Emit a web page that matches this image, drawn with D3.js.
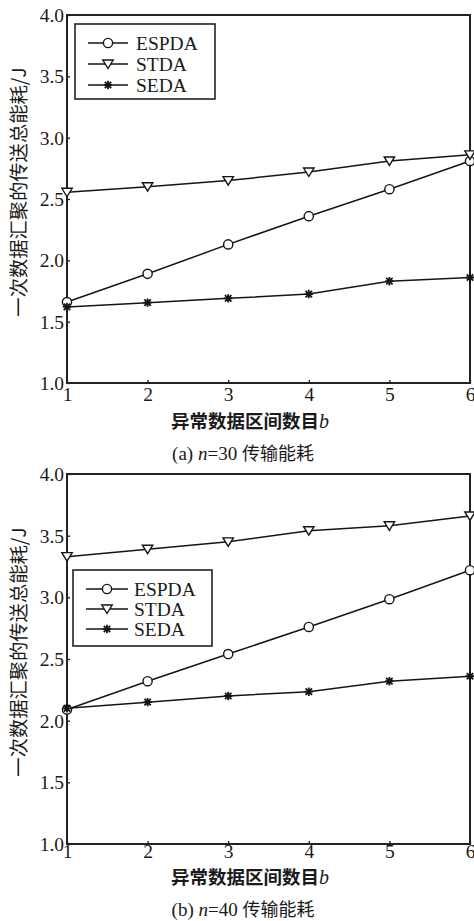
<!DOCTYPE html>
<html><head><meta charset="utf-8">
<script src="https://cdn.jsdelivr.net/npm/d3@7"></script>
<style>
html,body{margin:0;padding:0;background:#fff;}
svg{display:block;}
text{fill:#1a1a1a;}
.serif{font-family:"Liberation Serif","DejaVu Serif",serif;}
.cjk{font-family:"Noto Sans CJK SC","Noto Sans CJK JP",sans-serif;}
</style></head>
<body>
<svg id="c" width="474" height="921"></svg>
<script>
// ---- data ----
const categories = [1, 2, 3, 4, 5, 6];
const yTicks = [1.0, 1.5, 2.0, 2.5, 3.0, 3.5, 4.0];
const seriesNames = ["ESPDA", "STDA", "SEDA"];
// (a) n=30
const espdaA = [1.66, 1.89, 2.13, 2.36, 2.58, 2.81];
const stdaA  = [2.555, 2.60, 2.65, 2.72, 2.81, 2.86];
const sedaA  = [1.62, 1.655, 1.69, 1.725, 1.83, 1.86];
// (b) n=40
const espdaB = [2.09, 2.32, 2.54, 2.76, 2.985, 3.22];
const stdaB  = [3.33, 3.39, 3.45, 3.54, 3.58, 3.66];
const sedaB  = [2.10, 2.15, 2.20, 2.235, 2.32, 2.36];

const xLabelCJK = "异常数据区间数目";
const yLabel = "一次数据汇聚的传送总能耗/J";
const captionA = {pre: "(a) ", n: "n", post: "=30 ", cjk: "传输能耗"};
const captionB = {pre: "(b) ", n: "n", post: "=40 ", cjk: "传输能耗"};

const svg = d3.select("#c");
const INK = "#151515";

function marker(g, type, x, y) {
  if (type === "ESPDA") {
    g.append("circle").attr("cx", x).attr("cy", y).attr("r", 4.6)
      .attr("fill", "#fff").attr("stroke", INK).attr("stroke-width", 1.4);
  } else if (type === "STDA") {
    g.append("path")
      .attr("d", `M${x-5.2},${y-4} L${x+5.2},${y-4} L${x},${y+4.5} Z`)
      .attr("fill", "#fff").attr("stroke", INK).attr("stroke-width", 1.4);
  } else {
    const r = 4.2, d = 3.2;
    g.append("path")
      .attr("d", `M${x-r},${y}L${x+r},${y}M${x},${y-r}L${x},${y+r}M${x-d},${y-d}L${x+d},${y+d}M${x-d},${y+d}L${x+d},${y-d}`)
      .attr("fill", "none").attr("stroke", INK).attr("stroke-width", 1.8);
  }
}

function drawChart(cfg) {
  const g = svg.append("g");
  const x = d3.scaleLinear().domain([1, 6]).range([cfg.left, cfg.right]);
  const y = d3.scaleLinear().domain([1, 4]).range([cfg.bottom, cfg.top]);

  const xa = g.append("g").attr("transform", `translate(0,${cfg.bottom})`)
    .call(d3.axisBottom(x).tickValues(categories).tickFormat(d3.format("d"))
      .tickSizeInner(-3).tickSizeOuter(0));
  xa.attr("font-family", null).attr("font-size", null);
  xa.select(".domain").remove();
  xa.selectAll(".tick line").attr("stroke", INK).attr("stroke-width", 1.3);
  xa.selectAll(".tick text").attr("y", cfg.xTickDy).attr("dy", 0)
    .attr("class", "serif").style("font-size", "19.5px").attr("fill", "#1a1a1a");

  const ya = g.append("g").attr("transform", `translate(${cfg.left},0)`)
    .call(d3.axisLeft(y).tickValues(yTicks).tickFormat(d3.format(".1f"))
      .tickSizeInner(-3).tickSizeOuter(0));
  ya.attr("font-family", null).attr("font-size", null);
  ya.select(".domain").remove();
  ya.selectAll(".tick line").attr("stroke", INK).attr("stroke-width", 1.3);
  ya.selectAll(".tick text").attr("x", -3).attr("dy", "0.34em")
    .attr("class", "serif").style("font-size", "19.5px").attr("fill", "#1a1a1a");

  g.append("rect").attr("x", cfg.left).attr("y", cfg.top)
    .attr("width", cfg.right - cfg.left).attr("height", cfg.bottom - cfg.top)
    .attr("fill", "none").attr("stroke", "#222").attr("stroke-width", 2);

  const series = [
    {name: "ESPDA", v: cfg.espda},
    {name: "STDA", v: cfg.stda},
    {name: "SEDA", v: cfg.seda}
  ];
  const line = d3.line().x((d, i) => x(categories[i])).y(d => y(d));
  series.forEach(s => {
    g.append("path").datum(s.v).attr("d", line)
      .attr("fill", "none").attr("stroke", INK).attr("stroke-width", 1.5);
  });
  series.forEach(s => {
    s.v.forEach((v, i) => marker(g, s.name, x(categories[i]), y(v)));
  });

  const L = cfg.legend;
  g.append("rect").attr("x", L.x0).attr("y", L.y0)
    .attr("width", L.x1 - L.x0).attr("height", L.y1 - L.y0)
    .attr("fill", "#fff").attr("stroke", "#222").attr("stroke-width", 1.6);
  seriesNames.forEach((n, i) => {
    const ry = L.rows[i];
    g.append("line").attr("x1", L.lx0).attr("x2", L.lx1).attr("y1", ry).attr("y2", ry)
      .attr("stroke", INK).attr("stroke-width", 1.5);
    marker(g, n, (L.lx0 + L.lx1) / 2, ry);
    g.append("text").attr("x", L.tx).attr("y", ry).attr("dy", "0.35em")
      .attr("class", "serif").style("font-size", "19.5px").text(n);
  });

  const xl = g.append("text").attr("x", cfg.xLabelX).attr("y", cfg.xLabelY)
    .attr("text-anchor", "middle");
  xl.append("tspan").attr("class", "cjk").style("font-weight", "700")
    .style("font-size", "18.5px").text(xLabelCJK);
  xl.append("tspan").attr("class", "serif").style("font-style", "italic")
    .style("font-size", "20px").text("b");

  const cy = (cfg.top + cfg.bottom) / 2 - 7;
  g.append("text").attr("transform", `translate(18,${cy}) rotate(-90)`)
    .attr("text-anchor", "middle").attr("dominant-baseline", "central")
    .attr("class", "cjk").style("font-size", "19.3px").text(yLabel);

  const c = g.append("text").attr("x", cfg.capX).attr("y", cfg.capY)
    .attr("text-anchor", "middle");
  c.append("tspan").attr("class", "serif").style("font-size", "19px").text(cfg.caption.pre);
  c.append("tspan").attr("class", "serif").style("font-size", "19px").style("font-style", "italic").text(cfg.caption.n);
  c.append("tspan").attr("class", "serif").style("font-size", "19px").text(cfg.caption.post);
  c.append("tspan").attr("class", "cjk").style("font-size", "18px").text(cfg.caption.cjk);
}

drawChart({
  left: 67, right: 470, top: 15, bottom: 383,
  espda: espdaA, stda: stdaA, seda: sedaA,
  xTickDy: 18, xLabelX: 250, xLabelY: 428, capX: 243, capY: 460,
  caption: captionA,
  legend: {x0: 75, x1: 215, y0: 24, y1: 99, rows: [43, 64, 85], lx0: 88, lx1: 128, tx: 136}
});
drawChart({
  left: 67, right: 470, top: 474, bottom: 844,
  espda: espdaB, stda: stdaB, seda: sedaB,
  xTickDy: 14, xLabelX: 250, xLabelY: 884, capX: 243, capY: 916,
  caption: captionB,
  legend: {x0: 73, x1: 212, y0: 570, y1: 646, rows: [589, 609, 629], lx0: 86, lx1: 128, tx: 134}
});
</script>
</body></html>
